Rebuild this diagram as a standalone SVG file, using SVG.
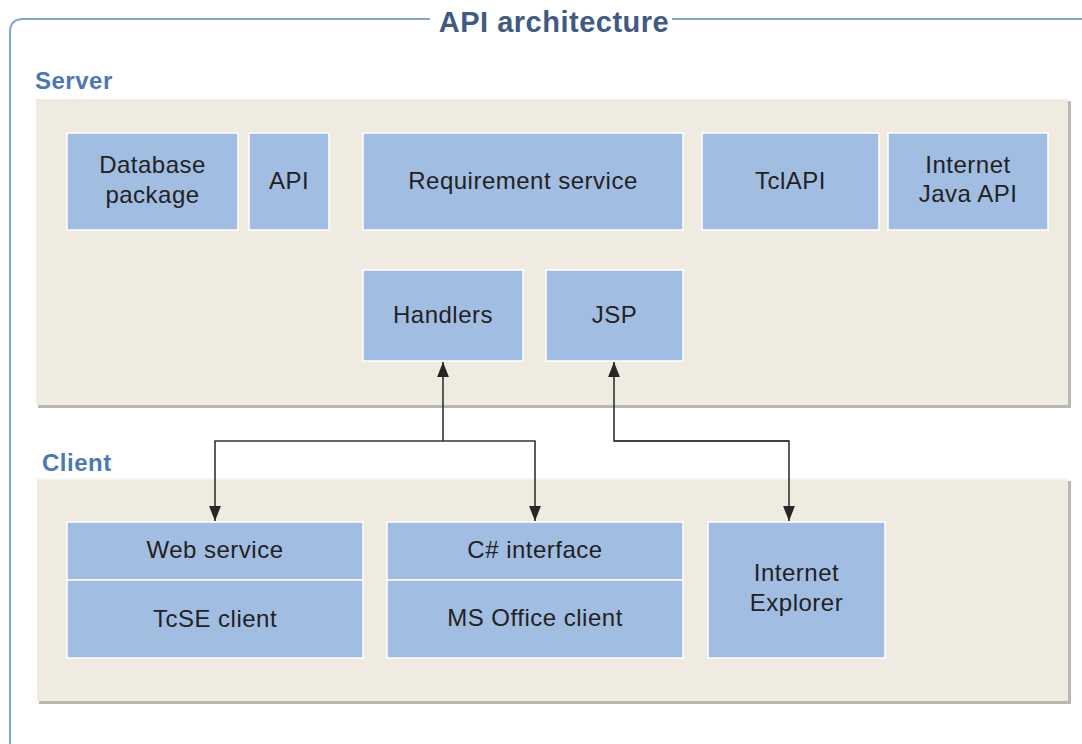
<svg xmlns="http://www.w3.org/2000/svg" width="1082" height="744" viewBox="0 0 1082 744">
<defs>
<marker id="ah" markerWidth="15" markerHeight="19" refX="19" refY="7.5" viewBox="0 0 19 15" orient="auto" markerUnits="userSpaceOnUse">
<path d="M0,0 L19,7.5 L0,15 Z" fill="#262626"/>
</marker>
<style>
.panel{fill:#efebe0;}
.shadow{fill:#b9b7b1;}
.box{fill:#a2bde2;stroke:#ffffff;stroke-width:1.5;}
.t{font-family:"Liberation Sans",Arial,sans-serif;font-size:24px;letter-spacing:0.5px;fill:#222222;text-anchor:middle;}
.lbl{font-family:"Liberation Sans",Arial,sans-serif;font-size:24px;letter-spacing:0.5px;font-weight:bold;fill:#4a78b6;}
.title{font-family:"Liberation Sans",Arial,sans-serif;font-size:29px;letter-spacing:0.5px;font-weight:bold;fill:#3f5b83;text-anchor:middle;}
.conn{fill:none;stroke:#333333;stroke-width:1.6;}
</style>
</defs>
<rect width="1082" height="744" fill="#ffffff"/>
<g id="frame">
<path d="M430,19 L23,19 Q10,19 10,32 L10,750" fill="none" stroke="#7fa6dc" stroke-width="2"/>
<path d="M672,19 L1082,19" fill="none" stroke="#7fa6dc" stroke-width="2"/>
<text class="title" x="554" y="32">API architecture</text>
</g>
<g id="server">
<rect class="shadow" x="38" y="101" width="1033" height="307"/>
<rect class="panel" x="36" y="99" width="1032" height="306"/>
<text class="lbl" x="35" y="89">Server</text>
</g>
<g id="client">
<rect class="shadow" x="39" y="481" width="1032" height="223"/>
<rect class="panel" x="37" y="479" width="1031" height="222"/>
<rect x="37" y="478" width="1031" height="2" fill="#f6f4ee"/>
<text class="lbl" x="42" y="471">Client</text>
</g>
<g id="database-package">
<rect class="box" x="67" y="133" width="171" height="97"/>
<text class="t" x="152.5" y="173">Database</text>
<text class="t" x="152.5" y="203">package</text>
</g>
<g id="api">
<rect class="box" x="249" y="133" width="80" height="97"/>
<text class="t" x="289" y="189">API</text>
</g>
<g id="requirement-service">
<rect class="box" x="363" y="133" width="320" height="97"/>
<text class="t" x="523" y="189">Requirement service</text>
</g>
<g id="tclapi">
<rect class="box" x="702" y="133" width="177" height="97"/>
<text class="t" x="790.5" y="189">TclAPI</text>
</g>
<g id="internet-java-api">
<rect class="box" x="888" y="133" width="160" height="97"/>
<text class="t" x="968" y="173">Internet</text>
<text class="t" x="968" y="202">Java API</text>
</g>
<g id="handlers">
<rect class="box" x="363" y="270" width="160" height="91"/>
<text class="t" x="443" y="323">Handlers</text>
</g>
<g id="jsp">
<rect class="box" x="546" y="270" width="137" height="91"/>
<text class="t" x="614.5" y="323">JSP</text>
</g>
<g id="web-service">
<rect class="box" x="67" y="522" width="296" height="58"/>
<text class="t" x="215" y="558">Web service</text>
</g>
<g id="tcse-client">
<rect class="box" x="67" y="580" width="296" height="78"/>
<text class="t" x="215" y="627">TcSE client</text>
</g>
<g id="csharp-interface">
<rect class="box" x="387" y="522" width="296" height="58"/>
<text class="t" x="535" y="558">C# interface</text>
</g>
<g id="ms-office-client">
<rect class="box" x="387" y="580" width="296" height="78"/>
<text class="t" x="535" y="626">MS Office client</text>
</g>
<g id="internet-explorer">
<rect class="box" x="708" y="522" width="177" height="136"/>
<text class="t" x="796.5" y="581">Internet</text>
<text class="t" x="796.5" y="611">Explorer</text>
</g>
<g id="connectors">
<path class="conn" d="M443,441 L443,362" marker-end="url(#ah)"/>
<path class="conn" d="M443,441 L215,441 L215,521" marker-end="url(#ah)"/>
<path class="conn" d="M443,441 L535,441 L535,521" marker-end="url(#ah)"/>
<path class="conn" d="M789,441 L614,441 L614,362" marker-end="url(#ah)"/>
<path class="conn" d="M614,441 L789,441 L789,521" marker-end="url(#ah)"/>
</g>
</svg>
